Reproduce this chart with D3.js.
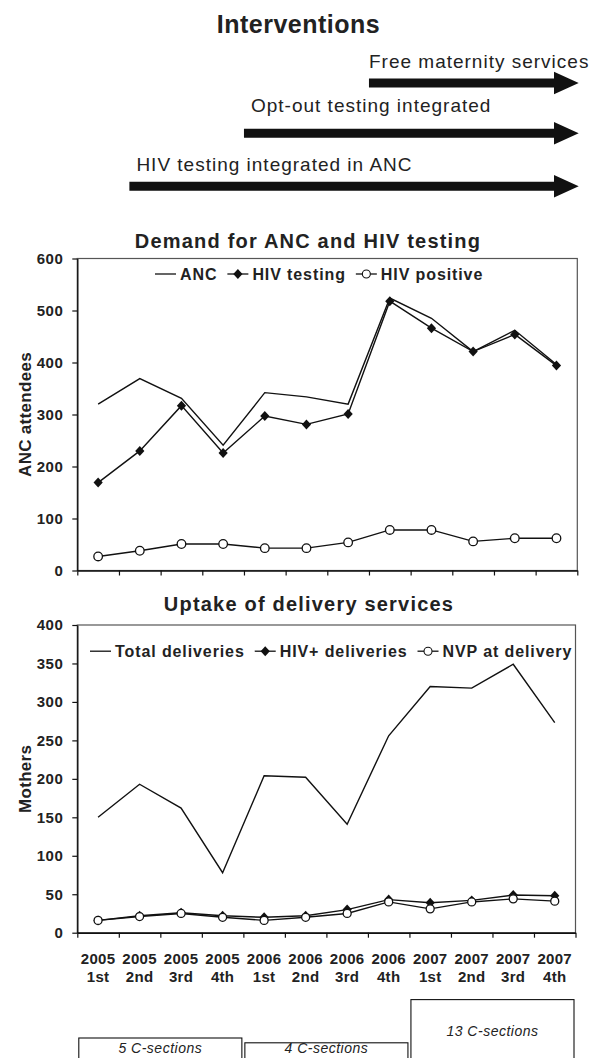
<!DOCTYPE html>
<html>
<head>
<meta charset="utf-8">
<script src="https://cdn.jsdelivr.net/npm/d3@7"></script>
<style>
  body { margin: 0; background: #fff; }
  svg { display: block; }
  text { font-family: "Liberation Sans", Arial, sans-serif; fill: #222; }
</style>
</head>
<body>
<svg id="fig" width="592" height="1058"></svg>
<script>
// quarters 2005 Q1 .. 2007 Q4
var years = ["2005","2005","2005","2005","2006","2006","2006","2006","2007","2007","2007","2007"];
var quarters = ["1st","2nd","3rd","4th","1st","2nd","3rd","4th","1st","2nd","3rd","4th"];

// demand for ANC and HIV testing
var anc         = [320, 369, 331, 241, 342, 334, 320, 524, 485, 421, 462, 396];
var hivTesting  = [169, 230, 317, 226, 297, 281, 301, 518, 466, 421, 454, 394];
var hivPositive = [ 27,  38,  51,  51,  43,  43,  54,  78,  78,  56,  62,  62];

// uptake of delivery services
var totalDeliveries = [150, 193, 162,  78, 204, 202, 141, 256, 320, 318, 349, 273];
var hivDeliveries   = [ 16,  22,  26,  22,  20,  22,  30,  43,  39,  42,  49,  48];
var nvpDelivery     = [ 16,  21,  25,  20,  16,  20,  25,  40,  31,  40,  44,  41];

// interventions: label and the quarter boundary where each one starts
var interventionLabels = ["Free maternity services", "Opt-out testing integrated", "HIV testing integrated in ANC"];
var interventionStart  = [7, 4, 1.25];

// C-sections per year
var csYears  = ["2005", "2006", "2007"];
var csCounts = [5, 4, 13];

var svg = d3.select("#fig");
var diamond = "M0,-5L4.6,0L0,5L-4.6,0Z";

function lineChart(opt) {
  var x = d3.scaleLinear().domain([0, 12]).range([opt.left, opt.right]);
  var y = d3.scaleLinear().domain([0, opt.yMax]).range([opt.bottom, opt.top]);
  var g = svg.append("g");

  g.append("rect")
    .attr("x", opt.left).attr("y", opt.top)
    .attr("width", opt.right - opt.left).attr("height", opt.bottom - opt.top)
    .attr("fill", "none").attr("stroke", "#555").attr("stroke-width", 1.2);

  var ya = g.append("g")
    .attr("transform", "translate(" + opt.left + ",0)")
    .call(d3.axisLeft(y).tickValues(d3.range(0, opt.yMax + 1, opt.yStep))
      .tickSize(5).tickSizeOuter(0).tickPadding(9));
  ya.select(".domain").attr("stroke", "#111").attr("stroke-width", 1.4);
  ya.selectAll(".tick line").attr("stroke", "#111").attr("stroke-width", 1.2);
  ya.selectAll("text").attr("font-size", 15).attr("font-weight", "bold")
    .attr("letter-spacing", 0.5).attr("fill", "#222");

  var xa = g.append("g")
    .attr("transform", "translate(0," + opt.bottom + ")")
    .call(d3.axisBottom(x).tickValues(d3.range(13)).tickSize(5).tickSizeOuter(0).tickFormat(""));
  xa.select(".domain").attr("stroke", "#111").attr("stroke-width", 1.4);
  xa.selectAll(".tick line").attr("stroke", "#111").attr("stroke-width", 1.2);

  // title + y title
  g.append("text").attr("x", opt.titleX).attr("y", opt.titleY)
    .attr("text-anchor", "middle").attr("font-size", 20).attr("font-weight", "bold")
    .attr("letter-spacing", 1.2).text(opt.title);
  g.append("text")
    .attr("transform", "translate(31," + (opt.top + opt.bottom) / 2 + ") rotate(-90)")
    .attr("text-anchor", "middle").attr("font-size", 17).attr("font-weight", "bold")
    .attr("letter-spacing", 0.3).text(opt.yTitle);

  var line = d3.line().x(function(d, i) { return x(i + 0.5); }).y(function(d) { return y(d); });

  opt.series.forEach(function(s) {
    g.append("path").datum(s.values).attr("d", line)
      .attr("fill", "none").attr("stroke", "#111").attr("stroke-width", 1.4);
    if (s.marker == "diamond") {
      g.selectAll(null).data(s.values).enter().append("path")
        .attr("d", diamond)
        .attr("transform", function(d, i) { return "translate(" + x(i + 0.5) + "," + y(d) + ")"; })
        .attr("fill", "#111");
    } else if (s.marker == "circle") {
      g.selectAll(null).data(s.values).enter().append("circle")
        .attr("cx", function(d, i) { return x(i + 0.5); })
        .attr("cy", function(d) { return y(d); })
        .attr("r", opt.r)
        .attr("fill", "#fff").attr("stroke", "#111").attr("stroke-width", 1.3);
    }
  });

  // legend, laid out from left to right
  var lx = opt.legendX;
  opt.series.forEach(function(s) {
    var ly = opt.legendY - 5.5;
    g.append("line").attr("x1", lx).attr("x2", lx + 21).attr("y1", ly).attr("y2", ly)
      .attr("stroke", "#111").attr("stroke-width", 1.3);
    if (s.marker == "diamond") {
      g.append("path").attr("d", diamond).attr("transform", "translate(" + (lx + 10.5) + "," + ly + ")").attr("fill", "#111");
    } else if (s.marker == "circle") {
      g.append("circle").attr("cx", lx + 10.5).attr("cy", ly).attr("r", 4)
        .attr("fill", "#fff").attr("stroke", "#111").attr("stroke-width", 1.1);
    }
    var t = g.append("text").attr("x", lx + 25).attr("y", opt.legendY)
      .attr("font-size", 16).attr("font-weight", "bold").attr("letter-spacing", 0.9)
      .text(s.name);
    lx += 25 + t.node().getComputedTextLength() + 10;
  });

  return {x: x, y: y, g: g};
}

var c1 = lineChart({
  left: 77.3, right: 577.3, top: 258.5, bottom: 570.5,
  yMax: 600, yStep: 100, r: 4.3,
  title: "Demand for ANC and HIV testing", titleX: 308, titleY: 248,
  yTitle: "ANC attendees",
  legendX: 155, legendY: 279.5,
  series: [
    {name: "ANC", values: anc, marker: "none"},
    {name: "HIV testing", values: hivTesting, marker: "diamond"},
    {name: "HIV positive", values: hivPositive, marker: "circle"}
  ]
});

var c2 = lineChart({
  left: 77.3, right: 575.5, top: 625, bottom: 932.7,
  yMax: 400, yStep: 50, r: 4,
  title: "Uptake of delivery services", titleX: 309, titleY: 611,
  yTitle: "Mothers",
  legendX: 90, legendY: 656.7,
  series: [
    {name: "Total deliveries", values: totalDeliveries, marker: "none"},
    {name: "HIV+ deliveries", values: hivDeliveries, marker: "diamond"},
    {name: "NVP at delivery", values: nvpDelivery, marker: "circle"}
  ]
});

// quarter labels under the second chart
var xl = c2.g.append("g").selectAll("text").data(years).enter().append("text")
  .attr("text-anchor", "middle").attr("font-size", 15).attr("font-weight", "bold")
  .attr("letter-spacing", 0.3);
xl.append("tspan").attr("x", function(d, i) { return c2.x(i + 0.5); }).attr("y", 964).text(function(d) { return d; });
xl.append("tspan").attr("x", function(d, i) { return c2.x(i + 0.5); }).attr("y", 982.3).text(function(d, i) { return quarters[i]; });

// interventions
svg.append("text").attr("x", 298.5).attr("y", 33.3).attr("text-anchor", "middle")
  .attr("font-size", 25).attr("font-weight", "bold").attr("letter-spacing", 0.5).text("Interventions");

var rowY = [83, 133.3, 186.2], labelY = [68.3, 112.3, 170.7];
var tip = c1.x(12) + 1.4, headLen = 24.7;
interventionLabels.forEach(function(lab, i) {
  var x0 = c1.x(interventionStart[i]), cy = rowY[i];
  svg.append("path")
    .attr("d", "M" + x0 + "," + (cy - 4.5) + "H" + (tip - headLen) + "V" + (cy - 11.3) +
      "L" + tip + "," + cy + "L" + (tip - headLen) + "," + (cy + 11.3) + "V" + (cy + 4.5) + "H" + x0 + "Z")
    .attr("fill", "#111");
  svg.append("text").attr("x", i == 0 ? x0 : x0 + 7).attr("y", labelY[i])
    .attr("font-size", 19).attr("letter-spacing", 1).text(lab);
});

// C-section boxes, height proportional to the count
var cs = d3.scaleLinear().domain([0, 13]).range([1062, 999.6]);
csYears.forEach(function(yr, i) {
  var x0 = c2.x(i * 4) + 1.5, x1 = c2.x(i * 4 + 4) - 1.5, top = cs(csCounts[i]);
  svg.append("rect").attr("x", x0).attr("y", top).attr("width", x1 - x0).attr("height", 1062 - top)
    .attr("fill", "#fff").attr("stroke", "#111").attr("stroke-width", 1.1);
  svg.append("text").attr("x", (x0 + x1) / 2).attr("y", Math.min(top + (1062 - top) / 2 + 5, 1053))
    .attr("text-anchor", "middle").attr("font-size", 14).attr("font-style", "italic")
    .attr("letter-spacing", 0.5).text(csCounts[i] + " C-sections");
});
</script>
</body>
</html>
